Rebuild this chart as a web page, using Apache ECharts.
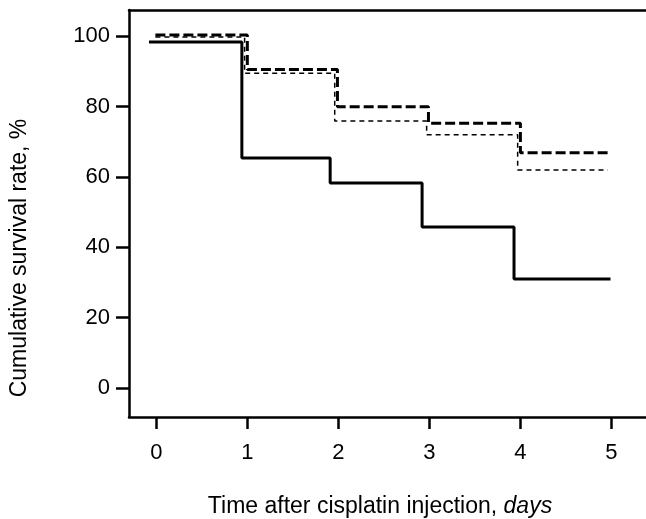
<!DOCTYPE html>
<html>
<head>
<meta charset="utf-8">
<script src="https://cdn.jsdelivr.net/npm/echarts@6/dist/echarts.min.js"></script>
<style>
html,body{margin:0;padding:0;background:#fff;}
#chart{width:646px;height:519px;}
</style>
</head>
<body>
<div id="chart"></div>
<script>
// Kaplan-Meier style step data (day, cumulative survival %)
var solidDays   = [-0.08, 0.94, 1.91, 2.92, 3.93, 4.99];
var solidRates  = [98.4, 65.4, 58.3, 45.8, 31.0, 31.0];
var heavyDays   = [-0.01, 1.00, 1.99, 2.99, 4.00, 4.99];
var heavyRates  = [100.4, 90.6, 80.0, 75.3, 66.9, 66.9];
var thinDays    = [-0.01, 0.97, 1.96, 2.97, 3.97, 4.96];
var thinRates   = [99.8, 89.5, 75.9, 72.0, 62.0, 62.0];
var xTicks = [0, 1, 2, 3, 4, 5];
var yTicks = [0, 20, 40, 60, 80, 100];

function pairs(xs, ys){ return xs.map(function(x,i){ return [x, ys[i]]; }); }

var chart = echarts.init(document.getElementById('chart'), null, {renderer:'canvas'});
var font = '"Liberation Sans", Arial, Helvetica, sans-serif';
chart.setOption({
  animation: false,
  backgroundColor: '#ffffff',
  grid: {left: 129, top: 10, right: 0, bottom: 102, show: false, containLabel: false},
  xAxis: [{
    type: 'value', min: -0.3, max: 5.38,
    axisLine: {show: true, onZero: false, lineStyle: {color: '#000', width: 2.5}},
    axisTick: {show: true, customValues: xTicks, length: 12, lineStyle: {color: '#000', width: 2.5}},
    axisLabel: {show: true, customValues: xTicks, margin: 25, color: '#000', fontSize: 22, fontFamily: font},
    splitLine: {show: false}
  }, {
    type: 'value', position: 'top', min: -0.3, max: 5.38,
    axisLine: {show: true, onZero: false, lineStyle: {color: '#000', width: 2.5}},
    axisTick: {show: false}, axisLabel: {show: false}, splitLine: {show: false}
  }],
  yAxis: {
    type: 'value', min: -8.25, max: 107.5,
    axisLine: {show: true, onZero: false, lineStyle: {color: '#000', width: 2.5}},
    axisTick: {show: true, customValues: yTicks, length: 13, lineStyle: {color: '#000', width: 2.5}},
    axisLabel: {show: true, customValues: yTicks, margin: 19, color: '#000', fontSize: 22, fontFamily: font},
    splitLine: {show: false}
  },
  graphic: [
    {type: 'text', x: 380, y: 507, silent: true,
     style: {text: 'Time after cisplatin injection, {i|days}', rich: {i: {fontStyle: 'italic', fontSize: 23, fontFamily: font, fill: '#000'}},
             fontSize: 23, fontFamily: font, fill: '#000', align: 'center', verticalAlign: 'middle'}},
    {type: 'text', x: 20, y: 258, rotation: Math.PI/2, silent: true,
     style: {text: 'Cumulative survival rate, %', fontSize: 23, fontFamily: font, fill: '#000', align: 'center', verticalAlign: 'middle'}}
  ],
  series: [
    {type: 'line', step: 'end', data: pairs(thinDays, thinRates), symbol: 'none',
     lineStyle: {color: '#000', width: 1.5, type: [5, 4]}},
    {type: 'line', step: 'end', data: pairs(heavyDays, heavyRates), symbol: 'none',
     lineStyle: {color: '#000', width: 3, type: [10, 4]}},
    {type: 'line', step: 'end', data: pairs(solidDays, solidRates), symbol: 'none',
     lineStyle: {color: '#000', width: 3, type: 'solid'}}
  ]
});
</script>
</body>
</html>
